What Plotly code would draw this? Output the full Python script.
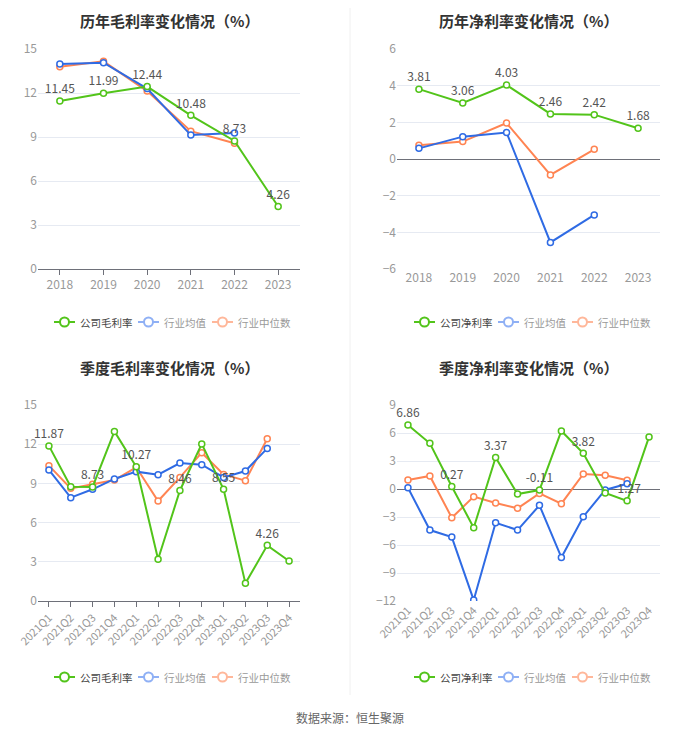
import plotly.graph_objects as go

# dati
anni = ["2018", "2019", "2020", "2021", "2022", "2023"]
trimestri = ["2021Q1", "2021Q2", "2021Q3", "2021Q4", "2022Q1", "2022Q2",
             "2022Q3", "2022Q4", "2023Q1", "2023Q2", "2023Q3", "2023Q4"]

lordo_azienda = [11.45, 11.99, 12.44, 10.48, 8.73, 4.26]
lordo_media = [13.97, 14.07, 12.30, 9.13, 9.27]
lordo_mediana = [13.79, 14.16, 12.13, 9.40, 8.57]

netto_azienda = [3.81, 3.06, 4.03, 2.46, 2.42, 1.68]
netto_media = [0.58, 1.22, 1.44, -4.55, -3.05]
netto_mediana = [0.75, 0.95, 1.96, -0.87, 0.53]

q_lordo_azienda = [11.87, 8.75, 8.73, 12.98, 10.27, 3.19, 8.46, 12.02, 8.55, 1.35, 4.26, 3.06]
q_lordo_media = [10.03, 7.91, 8.55, 9.34, 9.90, 9.67, 10.56, 10.43, 9.46, 9.95, 11.68]
q_lordo_mediana = [10.36, 8.62, 8.93, 9.26, 10.23, 7.65, 9.46, 11.35, 9.69, 9.21, 12.42]

q_netto_azienda = [6.86, 4.90, 0.27, -4.15, 3.37, -0.54, -0.11, 6.22, 3.82, -0.43, -1.27, 5.58]
q_netto_media = [0.14, -4.40, -5.15, -11.90, -3.61, -4.40, -1.75, -7.33, -2.97, -0.10, 0.57]
q_netto_mediana = [0.97, 1.40, -3.08, -0.82, -1.50, -2.07, -0.47, -1.57, 1.61, 1.47, 0.93]

VERDE = "#52c41a"
BLU = "#2f6be4"
ARANCIO = "#ff8452"
FONT = "Noto Sans CJK SC"
W, H = 700, 734
OFF = 8  # la pagina html aggiunge 8px di margine al body


def px_x(v):
    return (v - OFF) / W


def py(v):
    return 1 - (v - OFF) / H


fig = go.Figure()

pannelli = [
    dict(n="", x=anni, dati=(lordo_azienda, lordo_media, lordo_mediana), nome="公司毛利率",
         titolo="历年毛利率变化情况（%）", xd=(38, 300), yd=(49, 269), rng=[0, 15], dt=3,
         tutti=True, ty=20, leg=(54, 322)),
    dict(n="2", x=anni, dati=(netto_azienda, netto_media, netto_mediana), nome="公司净利率",
         titolo="历年净利率变化情况（%）", xd=(397, 660), yd=(49, 269), rng=[-6, 6], dt=2,
         tutti=True, ty=20, leg=(414, 322)),
    dict(n="3", x=trimestri, dati=(q_lordo_azienda, q_lordo_media, q_lordo_mediana), nome="公司毛利率",
         titolo="季度毛利率变化情况（%）", xd=(38, 300), yd=(405, 601), rng=[0, 15], dt=3,
         tutti=False, ty=367, leg=(54, 677)),
    dict(n="4", x=trimestri, dati=(q_netto_azienda, q_netto_media, q_netto_mediana), nome="公司净利率",
         titolo="季度净利率变化情况（%）", xd=(397, 660), yd=(405, 601), rng=[-12, 9], dt=3,
         tutti=False, ty=367, leg=(414, 677)),
]

for p in pannelli:
    n = p["n"]
    az, media, mediana = p["dati"]
    xa, ya = "x" + n, "y" + n
    if p["tutti"]:
        testi = [f"{v:.2f}" for v in az]
    else:
        testi = [f"{v:.2f}" if i % 2 == 0 else "" for i, v in enumerate(az)]

    for serie, col in [(mediana, ARANCIO), (media, BLU)]:
        fig.add_trace(go.Scatter(
            x=p["x"], y=serie, mode="lines+markers", xaxis=xa, yaxis=ya,
            line=dict(color=col, width=2),
            marker=dict(symbol="circle", size=6, color="white", line=dict(color=col, width=1.5)),
            showlegend=False))
    fig.add_trace(go.Scatter(
        x=p["x"], y=az, mode="lines+markers+text", xaxis=xa, yaxis=ya,
        text=testi, textposition="top center", cliponaxis=False,
        textfont=dict(family=FONT, size=12, color="#555"),
        line=dict(color=VERDE, width=2),
        marker=dict(symbol="circle", size=6, color="white", line=dict(color=VERDE, width=1.5)),
        showlegend=False))

    x0, x1 = p["xd"]
    y0, y1 = p["yd"]
    zero = p["rng"][0] < 0
    fig.update_layout({
        "xaxis" + n: dict(domain=[px_x(x0), px_x(x1)], anchor=ya, type="category", automargin=False,
                          range=[-0.5, len(p["x"]) - 0.5], showgrid=False,
                          showline=not zero, linecolor="#6e7079", linewidth=1,
                          ticks="" if zero else "outside", tickcolor="#6e7079", ticklen=5,
                          tickangle=0 if p["tutti"] else -45,
                          tickfont=dict(family=FONT, size=12 if p["tutti"] else 11, color="#999")),
        "yaxis" + n: dict(domain=[py(y1), py(y0)], anchor=xa, range=p["rng"], dtick=p["dt"],
                          automargin=False, showgrid=True, gridcolor="#e6eaf2", showline=False,
                          zeroline=zero, zerolinecolor="#6e7079", zerolinewidth=1,
                          ticks="", tickfont=dict(family=FONT, size=12, color="#999")),
    })
    fig.add_annotation(text=f"<b>{p['titolo']}</b>", xref="paper", yref="paper",
                       x=px_x((x0 + x1) / 2), y=py(p["ty"]), xanchor="center", yanchor="middle",
                       showarrow=False, font=dict(family=FONT, size=15, color="#333"))

    # legenda disegnata a mano: linea + cerchio + testo
    lx, ly = p["leg"]
    voci = [(p["nome"], VERDE, "#444", 0), ("行业均值", "#8fb0f5", "#999", 84),
            ("行业中位数", "#ffb79a", "#999", 158)]
    for nome, col, testo, dx in voci:
        sx = lx + dx
        fig.add_shape(type="line", xref="paper", yref="paper",
                      x0=px_x(sx), x1=px_x(sx + 21), y0=py(ly), y1=py(ly),
                      line=dict(color=col, width=2))
        fig.add_shape(type="circle", xref="paper", yref="paper",
                      x0=px_x(sx + 6), x1=px_x(sx + 15), y0=py(ly + 4.5), y1=py(ly - 4.5),
                      fillcolor="white", line=dict(color=col, width=2))
        fig.add_annotation(text=nome, xref="paper", yref="paper", x=px_x(sx + 24), y=py(ly),
                           xanchor="left", yanchor="middle", showarrow=False,
                           font=dict(family=FONT, size=10.5, color=testo))

fig.add_annotation(text="数据来源：恒生聚源", xref="paper", yref="paper", x=px_x(350), y=py(717),
                   xanchor="center", yanchor="middle", showarrow=False,
                   font=dict(family=FONT, size=12, color="#666"))
fig.add_shape(type="line", xref="paper", yref="paper", x0=px_x(350), x1=px_x(350),
              y0=py(695), y1=1, line=dict(color="#f0f0f0", width=1))

fig.update_layout(width=W, height=H, margin=dict(l=0, r=0, t=0, b=0),
                  paper_bgcolor="white", plot_bgcolor="white",
                  font=dict(family=FONT), hovermode=False, showlegend=False)

fig.write_html("out.html")
